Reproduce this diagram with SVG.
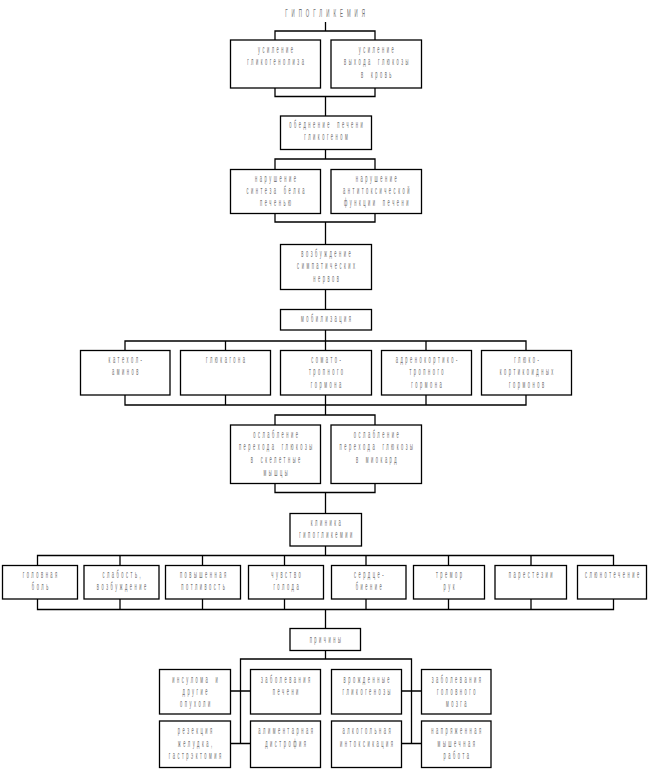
<svg xmlns="http://www.w3.org/2000/svg" width="651" height="769" viewBox="0 0 651 769">
<style>
.b{fill:#fff;stroke:#000;stroke-width:1.3}
.c{fill:none;stroke:#000;stroke-width:1.3}
.t{font-family:"Liberation Sans",Arial,sans-serif;font-size:10px;letter-spacing:6.3px;word-spacing:4px;fill:#707070;text-anchor:middle}
.h{font-family:"Liberation Sans",Arial,sans-serif;font-size:11px;letter-spacing:10px;fill:#707070;text-anchor:middle}
</style>
<rect width="651" height="769" fill="#fff"/>
<g id="connectors" class="c">
<path d="M325.5,22V31M275,40V31H375V40M275,88V96.5H375V88M325.5,96.5V116"/>
<path d="M325.5,149.5V159M275,169.5V159H375V169.5M275,213.5V222H375V213.5M325.5,222V244.5"/>
<path d="M325.5,289.5V309.5M325.5,330V350.5M125,350.5V341H526V350.5M225.5,341V350.5M426,341V350.5"/>
<path d="M125,395V405H526V395M225.5,395V405M426,395V405M325.5,395V415M275,425V415H375V425"/>
<path d="M275,483.5V492.5H375V483.5M325.5,492.5V513.5"/>
<path d="M325.5,546V555.5M37.5,565.5V555.5H613.5V565.5M120,555.5V565.5M202.5,555.5V565.5M284.5,555.5V565.5M366,555.5V565.5M448.5,555.5V565.5M531,555.5V565.5"/>
<path d="M37.5,599V609.5H613.5V599M120,599V609.5M202.5,599V609.5M284.5,599V609.5M366,599V609.5M448.5,599V609.5M531,599V609.5M325.5,609.5V628.5"/>
<path d="M325.5,650.5V659M240.5,743.5V659H411.5V743.5M230.5,691H250.5M401.5,691H421.5M230.5,743.5H250.5M401.5,743.5H421.5"/>
</g>
<g id="title"><text class="h" transform="translate(327,0) scale(0.4,1)"><tspan x="0" y="17">ГИПОГЛИКЕМИЯ</tspan></text></g>
<g id="n1"><rect class="b" x="230.5" y="40" width="90" height="48"/><text class="t" transform="translate(276.8,0) scale(0.4,1)"><tspan x="0" y="53.5">усиление</tspan><tspan x="0" y="65.5">гликогенолиза</tspan></text></g>
<g id="n2"><rect class="b" x="331" y="40" width="90.5" height="48"/><text class="t" transform="translate(377.5,0) scale(0.4,1)"><tspan x="0" y="53.5">усиление</tspan><tspan x="0" y="65.5">выхода глюкозы</tspan><tspan x="0" y="78">в кровь</tspan></text></g>
<g id="n3"><rect class="b" x="280.5" y="116" width="91" height="33.5"/><text class="t" transform="translate(327.3,0) scale(0.4,1)"><tspan x="0" y="127.7">обеднение печени</tspan><tspan x="0" y="140.4">гликогеном</tspan></text></g>
<g id="n4"><rect class="b" x="230.5" y="169.5" width="90" height="44"/><text class="t" transform="translate(276.8,0) scale(0.4,1)"><tspan x="0" y="181.7">нарушение</tspan><tspan x="0" y="193.7">синтеза белка</tspan><tspan x="0" y="206">печенью</tspan></text></g>
<g id="n5"><rect class="b" x="331" y="169.5" width="90.5" height="44"/><text class="t" transform="translate(377.5,0) scale(0.4,1)"><tspan x="0" y="181.7">нарушение</tspan><tspan x="0" y="193.7">антитоксической</tspan><tspan x="0" y="206">функции печени</tspan></text></g>
<g id="n6"><rect class="b" x="280.5" y="244.5" width="91" height="45"/><text class="t" transform="translate(327.3,0) scale(0.4,1)"><tspan x="0" y="257.5">возбуждение</tspan><tspan x="0" y="269.5">симпатических</tspan><tspan x="0" y="281.7">нервов</tspan></text></g>
<g id="n7"><rect class="b" x="280.5" y="309.5" width="91" height="20.5"/><text class="t" transform="translate(327.3,0) scale(0.4,1)"><tspan x="0" y="322.3">мобилизация</tspan></text></g>
<g id="n8"><rect class="b" x="80.5" y="350.5" width="89.5" height="44.5"/><text class="t" transform="translate(126.5,0) scale(0.4,1)"><tspan x="0" y="363.5">катехол-</tspan><tspan x="0" y="375.5">аминов</tspan></text></g>
<g id="n9"><rect class="b" x="180.5" y="350.5" width="90" height="44.5"/><text class="t" transform="translate(226.8,0) scale(0.4,1)"><tspan x="0" y="363.5">глюкагона</tspan></text></g>
<g id="n10"><rect class="b" x="280.5" y="350.5" width="91" height="44.5"/><text class="t" transform="translate(327.3,0) scale(0.4,1)"><tspan x="0" y="363.5">сомато-</tspan><tspan x="0" y="375.5">тропного</tspan><tspan x="0" y="387.7">гормона</tspan></text></g>
<g id="n11"><rect class="b" x="381.5" y="350.5" width="90" height="44.5"/><text class="t" transform="translate(427.8,0) scale(0.4,1)"><tspan x="0" y="363.5">адренокортико-</tspan><tspan x="0" y="375.5">тропного</tspan><tspan x="0" y="387.7">гормона</tspan></text></g>
<g id="n12"><rect class="b" x="481.5" y="350.5" width="90" height="44.5"/><text class="t" transform="translate(527.8,0) scale(0.4,1)"><tspan x="0" y="363.5">глюко-</tspan><tspan x="0" y="375.5">кортикоидных</tspan><tspan x="0" y="387.7">гормонов</tspan></text></g>
<g id="n13"><rect class="b" x="230.5" y="425" width="90" height="58.5"/><text class="t" transform="translate(276.8,0) scale(0.4,1)"><tspan x="0" y="437.7">ослабление</tspan><tspan x="0" y="450.3">перехода глюкозы</tspan><tspan x="0" y="463">в скелетные</tspan><tspan x="0" y="475.7">мышцы</tspan></text></g>
<g id="n14"><rect class="b" x="331" y="425" width="90.5" height="58.5"/><text class="t" transform="translate(377.5,0) scale(0.4,1)"><tspan x="0" y="437.7">ослабление</tspan><tspan x="0" y="450.3">перехода глюкозы</tspan><tspan x="0" y="463">в миокард</tspan></text></g>
<g id="n15"><rect class="b" x="290" y="513.5" width="71.5" height="32.5"/><text class="t" transform="translate(327,0) scale(0.4,1)"><tspan x="0" y="526">клиника</tspan><tspan x="0" y="538">гипогликемии</tspan></text></g>
<g id="n16"><rect class="b" x="2.5" y="565.5" width="75" height="33.5"/><text class="t" transform="translate(41.3,0) scale(0.4,1)"><tspan x="0" y="577.7">головная</tspan><tspan x="0" y="590">боль</tspan></text></g>
<g id="n17"><rect class="b" x="84" y="565.5" width="75" height="33.5"/><text class="t" transform="translate(122.8,0) scale(0.4,1)"><tspan x="0" y="577.7">слабость,</tspan><tspan x="0" y="590">возбуждение</tspan></text></g>
<g id="n18"><rect class="b" x="165.5" y="565.5" width="75" height="33.5"/><text class="t" transform="translate(204.3,0) scale(0.4,1)"><tspan x="0" y="577.7">повышенная</tspan><tspan x="0" y="590">потливость</tspan></text></g>
<g id="n19"><rect class="b" x="248.5" y="565.5" width="75" height="33.5"/><text class="t" transform="translate(287.3,0) scale(0.4,1)"><tspan x="0" y="577.7">чувство</tspan><tspan x="0" y="590">голода</tspan></text></g>
<g id="n20"><rect class="b" x="331.5" y="565.5" width="74.5" height="33.5"/><text class="t" transform="translate(370,0) scale(0.4,1)"><tspan x="0" y="577.7">сердце-</tspan><tspan x="0" y="590">биение</tspan></text></g>
<g id="n21"><rect class="b" x="413.5" y="565.5" width="71" height="33.5"/><text class="t" transform="translate(450.3,0) scale(0.4,1)"><tspan x="0" y="577.7">тремор</tspan><tspan x="0" y="590">рук</tspan></text></g>
<g id="n22"><rect class="b" x="495" y="565.5" width="71.5" height="33.5"/><text class="t" transform="translate(532,0) scale(0.4,1)"><tspan x="0" y="577.7">парестезии</tspan></text></g>
<g id="n23"><rect class="b" x="577.5" y="565.5" width="69" height="33.5"/><text class="t" transform="translate(613.3,0) scale(0.4,1)"><tspan x="0" y="577.7">слюнотечение</tspan></text></g>
<g id="n24"><rect class="b" x="290" y="628.5" width="70.5" height="22"/><text class="t" transform="translate(326.5,0) scale(0.4,1)"><tspan x="0" y="642.7">причины</tspan></text></g>
<g id="n25"><rect class="b" x="159.5" y="669.5" width="71" height="44.5"/><text class="t" transform="translate(196.3,0) scale(0.4,1)"><tspan x="0" y="682.7">инсулома и</tspan><tspan x="0" y="695">другие</tspan><tspan x="0" y="707.5">опухоли</tspan></text></g>
<g id="n26"><rect class="b" x="250.5" y="669.5" width="70" height="44.5"/><text class="t" transform="translate(286.8,0) scale(0.4,1)"><tspan x="0" y="682.7">заболевания</tspan><tspan x="0" y="695">печени</tspan></text></g>
<g id="n27"><rect class="b" x="331.5" y="669.5" width="70" height="44.5"/><text class="t" transform="translate(367.8,0) scale(0.4,1)"><tspan x="0" y="682.7">врожденные</tspan><tspan x="0" y="695">гликогенозы</tspan></text></g>
<g id="n28"><rect class="b" x="421.5" y="669.5" width="69.5" height="44.5"/><text class="t" transform="translate(457.5,0) scale(0.4,1)"><tspan x="0" y="682.7">заболевания</tspan><tspan x="0" y="695">головного</tspan><tspan x="0" y="707.5">мозга</tspan></text></g>
<g id="n29"><rect class="b" x="159.5" y="721" width="71" height="46.5"/><text class="t" transform="translate(196.3,0) scale(0.4,1)"><tspan x="0" y="734.5">резекция</tspan><tspan x="0" y="746.7">желудка,</tspan><tspan x="0" y="759">гастрэктомия</tspan></text></g>
<g id="n30"><rect class="b" x="250.5" y="721" width="70" height="46.5"/><text class="t" transform="translate(286.8,0) scale(0.4,1)"><tspan x="0" y="734.5">алиментарная</tspan><tspan x="0" y="746.7">дистрофия</tspan></text></g>
<g id="n31"><rect class="b" x="331.5" y="721" width="70" height="46.5"/><text class="t" transform="translate(367.8,0) scale(0.4,1)"><tspan x="0" y="734.5">алкогольная</tspan><tspan x="0" y="746.7">интоксикация</tspan></text></g>
<g id="n32"><rect class="b" x="421.5" y="721" width="69.5" height="46.5"/><text class="t" transform="translate(457.5,0) scale(0.4,1)"><tspan x="0" y="734.5">напряженная</tspan><tspan x="0" y="746.7">мышечная</tspan><tspan x="0" y="759">работа</tspan></text></g>
</svg>
